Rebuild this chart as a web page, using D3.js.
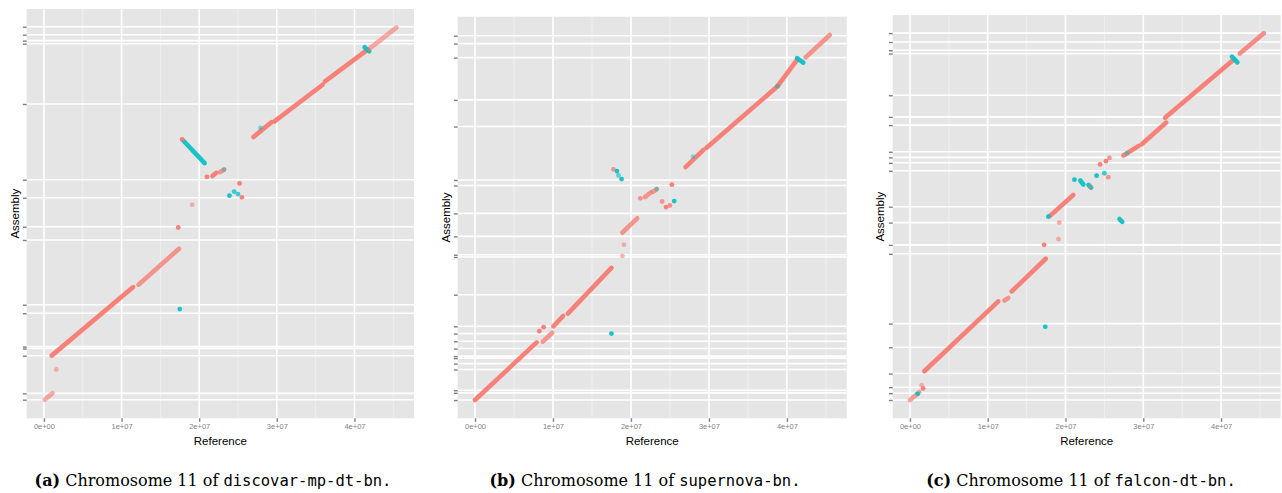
<!DOCTYPE html>
<html>
<head>
<meta charset="utf-8">
<script src="https://cdn.jsdelivr.net/npm/d3@7"></script>
<style>
  body { margin: 0; background: #fff; }
  svg { display: block; }
</style>
</head>
<body>
<svg id="fig" width="1282" height="493"></svg>
<script>
// positions in Mb: reference (x) vs assembly (y)
// alignment runs: [refStart, asmStart, refEnd, asmEnd, strand, quality]
var segA = [
  [0.1, 0, 1.1, 0.8, "+", 0.6],
  [1.0, 5.4, 11.5, 13.8, "+", 1],
  [12.2, 14.1, 17.4, 18.5, "+", 0.8],
  [18.0, 31.7, 20.7, 29.0, "-", 1],
  [21.7, 27.4, 22.2, 27.8, "+", 1],
  [22.7, 27.9, 23.2, 28.2, "+", 0.8],
  [27.0, 32.2, 29.3, 34.0, "+", 1],
  [29.7, 34.1, 35.9, 38.6, "+", 1],
  [36.2, 39.0, 41.7, 42.9, "+", 1],
  [41.3, 43.2, 41.9, 42.7, "-", 1],
  [41.9, 43.0, 45.4, 45.6, "+", 0.6]
];
// single alignments: [ref, asm, strand, quality]
var dotsA = [
  [1.6, 3.7, "+", 0.5],
  [17.3, 21.1, "+", 1],
  [19.1, 23.9, "+", 0.5],
  [17.5, 11.1, "-", 1],
  [17.8, 31.9, "+", 1],
  [21.0, 27.3, "+", 1],
  [25.2, 26.5, "+", 1],
  [23.9, 25.0, "-", 1],
  [24.5, 25.5, "-", 0.8],
  [25.0, 25.2, "-", 0.8],
  [25.5, 24.8, "+", 1],
  [27.9, 33.3, "-", 0.5],
  [23.2, 28.2, "-", 0.4]
];
// contig boundaries on the assembly axis
var ticksA = [0, 0.78, 5.39, 6.27, 6.50, 10.59, 11.64, 19.57, 21.20, 24.75, 26.96, 36.24, 43.63, 44.0, 44.73, 45.71];

var segB = [
  [0, 0, 7.9, 7.2, "+", 1],
  [8.7, 7.3, 9.9, 8.4, "+", 0.8],
  [10.05, 9.2, 11.3, 10.5, "+", 1],
  [11.9, 10.8, 17.5, 16.5, "+", 1],
  [18.9, 20.9, 20.8, 22.7, "+", 0.8],
  [21.8, 25.35, 22.5, 25.9, "+", 0.8],
  [22.8, 26.0, 23.3, 26.35, "+", 0.8],
  [27.0, 29.1, 29.3, 31.25, "+", 1],
  [29.7, 31.5, 38.8, 39.2, "+", 1],
  [38.8, 39.2, 41.3, 42.5, "+", 1],
  [41.3, 42.7, 42.1, 42.15, "-", 1],
  [42.4, 42.8, 45.5, 45.6, "+", 0.8]
];
var dotsB = [
  [8.25, 8.6, "+", 1],
  [8.8, 9.1, "+", 1],
  [17.5, 8.3, "-", 1],
  [18.9, 18.0, "+", 0.5],
  [19.1, 19.4, "+", 0.5],
  [21.2, 25.2, "+", 0.8],
  [25.25, 26.9, "+", 1],
  [24.0, 24.8, "+", 0.8],
  [24.5, 24.1, "+", 1],
  [25.0, 24.3, "+", 0.8],
  [25.55, 24.85, "-", 1],
  [17.75, 28.8, "+", 0.8],
  [18.2, 28.6, "-", 1],
  [18.4, 28.05, "-", 0.6],
  [18.8, 27.6, "-", 1],
  [23.3, 26.35, "-", 0.4],
  [27.95, 30.4, "-", 0.4],
  [38.8, 39.2, "-", 0.4]
];
var ticksB = [0, 0.90, 1.22, 3.81, 4.55, 5.24, 5.49, 6.43, 7.34, 8.30, 9.21, 13.16, 17.87, 18.15, 20.44, 23.31, 26.80, 27.48, 34.16, 37.49, 42.77, 44.52, 45.51];

var segC = [
  [0, 0, 1.2, 0.97, "+", 0.7],
  [1.84, 3.57, 11.36, 12.26, "+", 1],
  [12.14, 12.38, 12.65, 12.68, "+", 0.8],
  [13.09, 13.5, 17.46, 17.56, "+", 1],
  [18.0, 22.9, 21.0, 25.5, "+", 1],
  [21.9, 27.3, 22.3, 26.8, "-", 1],
  [22.95, 26.75, 23.3, 26.4, "-", 1],
  [26.94, 22.5, 27.3, 22.15, "-", 1],
  [27.45, 30.4, 29.4, 31.6, "+", 1],
  [29.8, 31.8, 32.95, 34.5, "+", 1],
  [32.8, 35.1, 41.6, 42.3, "+", 1],
  [41.4, 42.7, 42.1, 42.0, "-", 1],
  [42.4, 43.1, 45.5, 45.6, "+", 0.9]
];
var dotsC = [
  [0.99, 0.77, "-", 1],
  [1.5, 1.84, "+", 0.5],
  [1.7, 1.43, "+", 1],
  [17.25, 19.3, "+", 1],
  [19.1, 20.0, "+", 0.5],
  [17.4, 9.1, "-", 1],
  [19.2, 22.06, "+", 0.6],
  [17.8, 22.8, "-", 1],
  [21.15, 27.4, "-", 1],
  [24.0, 27.9, "-", 1],
  [25.0, 28.2, "-", 0.8],
  [25.5, 27.7, "+", 0.8],
  [24.45, 29.3, "+", 1],
  [25.2, 29.7, "+", 1],
  [25.65, 30.1, "+", 0.8],
  [23.2, 26.5, "+", 0.4],
  [27.9, 30.7, "-", 0.4]
];
var ticksC = [0, 0.84, 1.59, 3.29, 6.55, 9.49, 18.18, 19.29, 22.06, 24.04, 28.51, 29.50, 30.17, 30.87, 34.18, 35.21, 37.90, 43.08, 43.49, 44.52, 45.63];

var refBreaks = [0, 10, 20, 30, 40];
var refMinor = [5, 15, 25, 35, 45];
var refRange = [0.05, 45.4];
var asmRange = [0, 45.6];

var strandColor = {"+": "#F8766D", "-": "#00BFC4"};
var alpha = d3.scaleLinear().domain([0, 1]).range([0.15, 0.9]);

var svg = d3.select("#fig");

// 1e+07 style labels, like R prints them
function sci(v) {
  var bp = v * 1e6;
  if (bp === 0) return "0e+00";
  var e = Math.floor(Math.log10(bp));
  return (bp / Math.pow(10, e)) + "e+" + String(e).padStart(2, "0");
}

function expand(r) {
  var d = (r[1] - r[0]) * 0.05;
  return [r[0] - d, r[1] + d];
}

function drawPanel(p) {
  var x = d3.scaleLinear().domain(expand(refRange)).range([p.left, p.right]);
  var y = d3.scaleLinear().domain(expand(asmRange)).range([p.bottom, p.top]);
  var g = svg.append("g");

  g.append("rect")
    .attr("x", p.left).attr("y", p.top)
    .attr("width", p.right - p.left).attr("height", p.bottom - p.top)
    .attr("fill", "#E5E5E5");

  g.selectAll(".vmin").data(refMinor).enter().append("line")
    .attr("x1", d => x(d)).attr("x2", d => x(d))
    .attr("y1", p.top).attr("y2", p.bottom)
    .attr("stroke", "#F2F2F2").attr("stroke-width", 0.8);

  g.selectAll(".vmaj").data(refBreaks).enter().append("line")
    .attr("x1", d => x(d)).attr("x2", d => x(d))
    .attr("y1", p.top).attr("y2", p.bottom)
    .attr("stroke", "#fff").attr("stroke-width", 1.6);

  g.selectAll(".hmaj").data(p.ticks).enter().append("line")
    .attr("x1", p.left).attr("x2", p.right)
    .attr("y1", d => y(d)).attr("y2", d => y(d))
    .attr("stroke", "#fff").attr("stroke-width", 1.6);

  g.selectAll(".seg").data(p.seg).enter().append("line")
    .attr("x1", d => x(d[0])).attr("y1", d => y(d[1]))
    .attr("x2", d => x(d[2])).attr("y2", d => y(d[3]))
    .attr("stroke", d => strandColor[d[4]])
    .attr("stroke-opacity", d => alpha(d[5]))
    .attr("stroke-width", 4.6)
    .attr("stroke-linecap", "round");

  g.selectAll(".dot").data(p.dots).enter().append("circle")
    .attr("cx", d => x(d[0])).attr("cy", d => y(d[1]))
    .attr("r", 2.4)
    .attr("fill", d => strandColor[d[2]])
    .attr("fill-opacity", d => alpha(d[3]));

  var xAxis = g.append("g")
    .attr("transform", "translate(0," + p.bottom + ")")
    .call(d3.axisBottom(x).tickValues(refBreaks).tickFormat(sci).tickSize(3.5).tickPadding(2));
  var yAxis = g.append("g")
    .attr("transform", "translate(" + p.left + ",0)")
    .call(d3.axisLeft(y).tickValues(p.ticks).tickFormat("").tickSize(3.8));

  [xAxis, yAxis].forEach(function (a) {
    a.select(".domain").remove();
    a.selectAll(".tick line").attr("stroke", "#7F7F7F").attr("stroke-width", 1.4);
    a.selectAll(".tick text")
      .attr("fill", "#7F7F7F")
      .style("font", "7.5px 'Liberation Sans', Arial, sans-serif");
  });

  g.append("text")
    .attr("x", (p.left + p.right) / 2).attr("y", 444.5)
    .attr("text-anchor", "middle")
    .style("font", "11.5px 'Liberation Sans', Arial, sans-serif")
    .text("Reference");

  g.append("text")
    .attr("transform", "translate(" + p.ylabX + "," + (p.top + p.bottom) / 2 + ") rotate(-90)")
    .attr("text-anchor", "middle")
    .style("font", "11.5px 'Liberation Sans', Arial, sans-serif")
    .text("Assembly");

  // sub-caption: serif text with the assembly name in monospace
  var cap = svg.append("text")
    .attr("x", p.capX).attr("y", 486)
    .attr("text-anchor", "middle")
    .style("font-family", "'DejaVu Serif', serif")
    .style("font-size", "16px")
    .attr("fill", "#000");
  cap.append("tspan").style("font-weight", "bold").text("(" + p.tag + ")");
  cap.append("tspan").text(" Chromosome 11 of ");
  cap.append("tspan")
    .style("font-family", "'DejaVu Sans Mono', monospace")
    .style("font-size", "15.5px")
    .text(p.name + ".");
}

drawPanel({tag: "a", name: "discovar-mp-dt-bn", seg: segA, dots: dotsA, ticks: ticksA,
  left: 26.7, right: 414, top: 9, bottom: 418.3, ylabX: 18.5, capX: 213});
drawPanel({tag: "b", name: "supernova-bn", seg: segB, dots: dotsB, ticks: ticksB,
  left: 457.7, right: 846.7, top: 16.7, bottom: 418.3, ylabX: 450, capX: 645});
drawPanel({tag: "c", name: "falcon-dt-bn", seg: segC, dots: dotsC, ticks: ticksC,
  left: 892.7, right: 1280.7, top: 15, bottom: 418.3, ylabX: 884, capX: 1081});
</script>
</body>
</html>
